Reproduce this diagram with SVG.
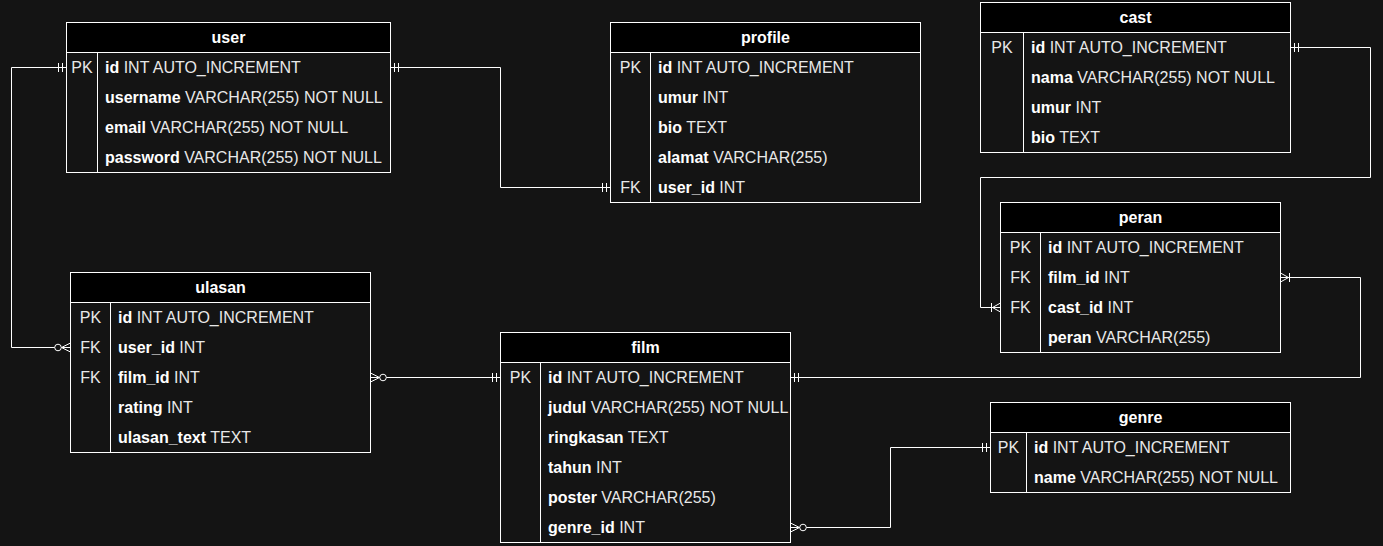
<svg xmlns="http://www.w3.org/2000/svg" width="1383" height="546" viewBox="0 0 1383 546">
<style>
.box{fill:#141414;stroke:#ffffff;stroke-width:1}
.hdr{fill:#000000;stroke:#ffffff;stroke-width:1}
.div{stroke:#ffffff;stroke-width:1;fill:none}
.title{font-family:"Liberation Sans",Arial,sans-serif;font-size:16px;font-weight:bold;fill:#ffffff;text-anchor:middle}
.key{font-family:"Liberation Sans",Arial,sans-serif;font-size:16px;fill:#e8e8e8;text-anchor:middle}
.fld{font-family:"Liberation Sans",Arial,sans-serif;font-size:16px;fill:#e8e8e8}
.fld .n{font-weight:bold;fill:#ffffff}
.con{fill:none;stroke:#ffffff;stroke-width:1}
.mk{fill:none;stroke:#ffffff;stroke-width:1}
</style>
<defs>
<marker id="one" viewBox="-16 -8 18 16" markerWidth="18" markerHeight="16" refX="0" refY="0" orient="auto-start-reverse" markerUnits="userSpaceOnUse"><path class="mk" d="M-4,-4.5V4.5M-8,-4.5V4.5"/></marker>
<marker id="zmany" viewBox="-18 -8 20 16" markerWidth="20" markerHeight="16" refX="0" refY="0" orient="auto-start-reverse" markerUnits="userSpaceOnUse"><path class="mk" d="M0,-4.5L-9,0L0,4.5"/><circle cx="-12.5" cy="0" r="3.3" fill="#141414" stroke="#ffffff" stroke-width="1"/></marker>
<marker id="omany" viewBox="-16 -8 18 16" markerWidth="18" markerHeight="16" refX="0" refY="0" orient="auto-start-reverse" markerUnits="userSpaceOnUse"><path class="mk" d="M0,-4.5L-8,0L0,4.5M-9,-4.5V4.5"/></marker>
</defs>
<rect x="0" y="0" width="1383" height="546" fill="#141414"/>

<g id="connectors">
<path class="con" d="M390.5,67.5H500.5V187.5H610.5" marker-start="url(#one)" marker-end="url(#one)"/>
<path class="con" d="M66.5,67.5H11.5V347.5H70.5" marker-start="url(#one)" marker-end="url(#zmany)"/>
<path class="con" d="M370.5,377.5H500.5" marker-start="url(#zmany)" marker-end="url(#one)"/>
<path class="con" d="M790.5,527.5H890.5V447.5H990.5" marker-start="url(#zmany)" marker-end="url(#one)"/>
<path class="con" d="M1290.5,47.5H1370.5V177.5H980.5V307.5H1000.5" marker-start="url(#one)" marker-end="url(#omany)"/>
<path class="con" d="M790.5,377.5H1360.5V277.5H1280.5" marker-start="url(#one)" marker-end="url(#omany)"/>
</g>

<g id="user">
<rect class="box" x="66.5" y="22.5" width="324" height="150"/>
<rect class="hdr" x="66.5" y="22.5" width="324" height="30"/>
<line class="div" x1="97.5" y1="52.5" x2="97.5" y2="172.5"/>
<text class="title" x="228.5" y="43">user</text>
<text class="key" x="82" y="73">PK</text>
<text class="fld" x="105" y="73"><tspan class="n">id</tspan> INT AUTO_INCREMENT</text>
<text class="fld" x="105" y="103"><tspan class="n">username</tspan> VARCHAR(255) NOT NULL</text>
<text class="fld" x="105" y="133"><tspan class="n">email</tspan> VARCHAR(255) NOT NULL</text>
<text class="fld" x="105" y="163"><tspan class="n">password</tspan> VARCHAR(255) NOT NULL</text>
</g>

<g id="profile">
<rect class="box" x="610.5" y="22.5" width="310" height="180"/>
<rect class="hdr" x="610.5" y="22.5" width="310" height="30"/>
<line class="div" x1="650.5" y1="52.5" x2="650.5" y2="202.5"/>
<text class="title" x="765.5" y="43">profile</text>
<text class="key" x="630.5" y="73">PK</text>
<text class="fld" x="658" y="73"><tspan class="n">id</tspan> INT AUTO_INCREMENT</text>
<text class="fld" x="658" y="103"><tspan class="n">umur</tspan> INT</text>
<text class="fld" x="658" y="133"><tspan class="n">bio</tspan> TEXT</text>
<text class="fld" x="658" y="163"><tspan class="n">alamat</tspan> VARCHAR(255)</text>
<text class="key" x="630.5" y="193">FK</text>
<text class="fld" x="658" y="193"><tspan class="n">user_id</tspan> INT</text>
</g>

<g id="cast">
<rect class="box" x="980.5" y="2.5" width="310" height="150"/>
<rect class="hdr" x="980.5" y="2.5" width="310" height="30"/>
<line class="div" x1="1023.5" y1="32.5" x2="1023.5" y2="152.5"/>
<text class="title" x="1135.5" y="23">cast</text>
<text class="key" x="1002" y="53">PK</text>
<text class="fld" x="1031" y="53"><tspan class="n">id</tspan> INT AUTO_INCREMENT</text>
<text class="fld" x="1031" y="83"><tspan class="n">nama</tspan> VARCHAR(255) NOT NULL</text>
<text class="fld" x="1031" y="113"><tspan class="n">umur</tspan> INT</text>
<text class="fld" x="1031" y="143"><tspan class="n">bio</tspan> TEXT</text>
</g>

<g id="peran">
<rect class="box" x="1000.5" y="202.5" width="280" height="150"/>
<rect class="hdr" x="1000.5" y="202.5" width="280" height="30"/>
<line class="div" x1="1040.5" y1="232.5" x2="1040.5" y2="352.5"/>
<text class="title" x="1140.5" y="223">peran</text>
<text class="key" x="1020.5" y="253">PK</text>
<text class="fld" x="1048" y="253"><tspan class="n">id</tspan> INT AUTO_INCREMENT</text>
<text class="key" x="1020.5" y="283">FK</text>
<text class="fld" x="1048" y="283"><tspan class="n">film_id</tspan> INT</text>
<text class="key" x="1020.5" y="313">FK</text>
<text class="fld" x="1048" y="313"><tspan class="n">cast_id</tspan> INT</text>
<text class="fld" x="1048" y="343"><tspan class="n">peran</tspan> VARCHAR(255)</text>
</g>

<g id="ulasan">
<rect class="box" x="70.5" y="272.5" width="300" height="180"/>
<rect class="hdr" x="70.5" y="272.5" width="300" height="30"/>
<line class="div" x1="110.5" y1="302.5" x2="110.5" y2="452.5"/>
<text class="title" x="220.5" y="293">ulasan</text>
<text class="key" x="90.5" y="323">PK</text>
<text class="fld" x="118" y="323"><tspan class="n">id</tspan> INT AUTO_INCREMENT</text>
<text class="key" x="90.5" y="353">FK</text>
<text class="fld" x="118" y="353"><tspan class="n">user_id</tspan> INT</text>
<text class="key" x="90.5" y="383">FK</text>
<text class="fld" x="118" y="383"><tspan class="n">film_id</tspan> INT</text>
<text class="fld" x="118" y="413"><tspan class="n">rating</tspan> INT</text>
<text class="fld" x="118" y="443"><tspan class="n">ulasan_text</tspan> TEXT</text>
</g>

<g id="film">
<rect class="box" x="500.5" y="332.5" width="290" height="210"/>
<rect class="hdr" x="500.5" y="332.5" width="290" height="30"/>
<line class="div" x1="540.5" y1="362.5" x2="540.5" y2="542.5"/>
<text class="title" x="645.5" y="353">film</text>
<text class="key" x="520.5" y="383">PK</text>
<text class="fld" x="548" y="383"><tspan class="n">id</tspan> INT AUTO_INCREMENT</text>
<text class="fld" x="548" y="413"><tspan class="n">judul</tspan> VARCHAR(255) NOT NULL</text>
<text class="fld" x="548" y="443"><tspan class="n">ringkasan</tspan> TEXT</text>
<text class="fld" x="548" y="473"><tspan class="n">tahun</tspan> INT</text>
<text class="fld" x="548" y="503"><tspan class="n">poster</tspan> VARCHAR(255)</text>
<text class="fld" x="548" y="533"><tspan class="n">genre_id</tspan> INT</text>
</g>

<g id="genre">
<rect class="box" x="990.5" y="402.5" width="300" height="90"/>
<rect class="hdr" x="990.5" y="402.5" width="300" height="30"/>
<line class="div" x1="1026.5" y1="432.5" x2="1026.5" y2="492.5"/>
<text class="title" x="1140.5" y="423">genre</text>
<text class="key" x="1008.5" y="453">PK</text>
<text class="fld" x="1034" y="453"><tspan class="n">id</tspan> INT AUTO_INCREMENT</text>
<text class="fld" x="1034" y="483"><tspan class="n">name</tspan> VARCHAR(255) NOT NULL</text>
</g>
</svg>
